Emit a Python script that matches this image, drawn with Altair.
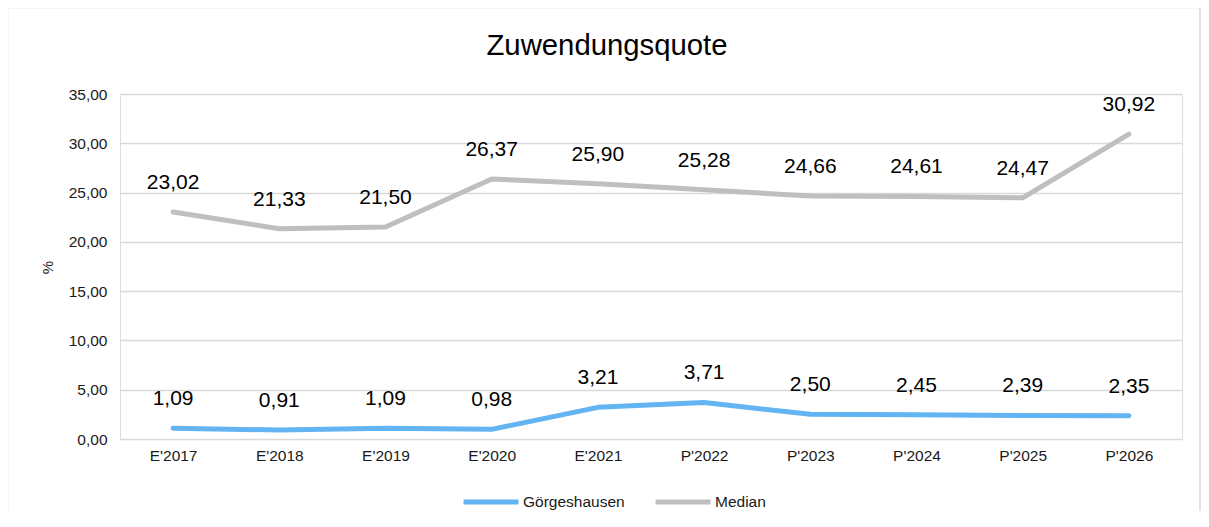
import altair as alt
import pandas as pd

categories = ["E'2017", "E'2018", "E'2019", "E'2020", "E'2021", "P'2022", "P'2023", "P'2024", "P'2025", "P'2026"]
goergeshausen = [1.09, 0.91, 1.09, 0.98, 3.21, 3.71, 2.50, 2.45, 2.39, 2.35]
median = [23.02, 21.33, 21.50, 26.37, 25.90, 25.28, 24.66, 24.61, 24.47, 30.92]
series_names = ["Görgeshausen", "Median"]
series_colors = ["#63B4F2", "#BFBFBF"]
chart_title = "Zuwendungsquote"

rows = []
for c, v in zip(categories, goergeshausen):
    rows.append({"Jahr": c, "Wert": v, "Reihe": series_names[0]})
for c, v in zip(categories, median):
    rows.append({"Jahr": c, "Wert": v, "Reihe": series_names[1]})
df = pd.DataFrame(rows)

FONT = "Liberation Sans"
TXT = "#1a1a1a"

xscale = alt.Scale(type="point", padding=0.5)
x = alt.X("Jahr:N", sort=categories, scale=xscale,
          axis=alt.Axis(title=None, labelAngle=0, ticks=False, domain=False, grid=False,
                        labelFontSize=15.5, labelColor=TXT, labelPadding=9, labelFont=FONT))
y = alt.Y("Wert:Q", scale=alt.Scale(domain=[0, 35], nice=False),
          axis=alt.Axis(title="%", values=[0, 5, 10, 15, 20, 25, 30, 35],
                        labelExpr="replace(format(datum.value, '.2f'), '.', ',')",
                        ticks=False, domain=False, gridColor="#D9D9D9", gridWidth=1.3,
                        labelFontSize=15.5, labelColor=TXT, labelPadding=13, labelFont=FONT,
                        titleFontSize=15, titleFont=FONT, titleFontWeight="normal",
                        titleColor=TXT, titleX=-73, titleY=173, titleAngle=-90,
                        titleAlign="center", titleBaseline="middle"))

color = alt.Color("Reihe:N", scale=alt.Scale(domain=series_names, range=series_colors),
                  legend=alt.Legend(title=None, orient="none", direction="horizontal",
                                    legendX=341, legendY=378, symbolType="stroke",
                                    symbolStrokeWidth=5, symbolSize=3025,
                                    labelFontSize=15.5, labelFont=FONT, labelColor=TXT,
                                    columnPadding=20, labelOffset=2))

base = alt.Chart(df)

lines = base.mark_line(strokeWidth=5, strokeCap="round", strokeJoin="round").encode(
    x=x, y=y, color=color)

labels = base.transform_calculate(
    lab="replace(format(datum.Wert, '.2f'), '.', ',')"
).mark_text(fontSize=21, font=FONT, color="#000000", baseline="middle", dy=-29).encode(
    x=alt.X("Jahr:N", sort=categories, scale=xscale),
    y=alt.Y("Wert:Q"),
    text="lab:N")

title = alt.Chart(pd.DataFrame({"t": [chart_title]})).mark_text(
    fontSize=29.3, font=FONT, color="#000000", baseline="alphabetic", align="center").encode(
    x=alt.value(487), y=alt.value(-39), text="t:N")

frame = alt.Chart(pd.DataFrame({"k": [0]})).mark_rect(
    fill=None, stroke="#D9D9D9", strokeWidth=1.5).encode(
    x=alt.value(-112.5), x2=alt.value(1080), y=alt.value(-86.5), y2=alt.value(600))

chart = alt.layer(frame, lines, labels, title).properties(
    width=1062, height=345,
    autosize=alt.AutoSizeParams(type="none"),
    padding={"left": 112, "top": 86, "right": 19, "bottom": 72},
).configure_view(stroke=None).configure(background="white")

chart.save("out.html", embed_options={"renderer": "svg", "actions": False})
